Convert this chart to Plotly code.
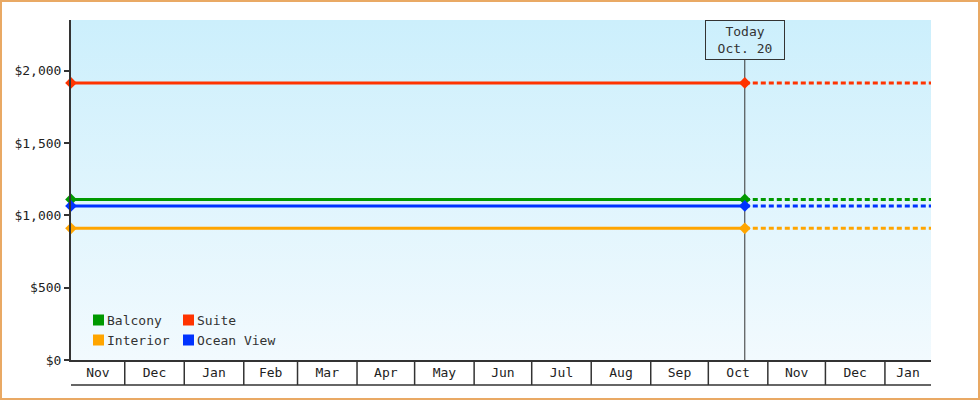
import base64
import pandas as pd
import plotly.graph_objects as go

# ---- data ----
range_start = "2022-11-03"
today = "2023-10-20"
range_end = "2024-01-25"
dates_past = [range_start, today]
dates_future = [today, range_end]

series_names = ["Balcony", "Suite", "Interior", "Ocean View"]
series_colors = ["#009900", "#FF3300", "#FFA500", "#0033FF"]
balcony = [1110, 1110]
suite = [1915, 1915]
interior = [910, 910]
ocean_view = [1065, 1065]
series_values = [balcony, suite, interior, ocean_view]

month_labels = ["Nov", "Dec", "Jan", "Feb", "Mar", "Apr", "May", "Jun",
                "Jul", "Aug", "Sep", "Oct", "Nov", "Dec", "Jan"]
month_starts = ["2022-11-01", "2022-12-01", "2023-01-01", "2023-02-01", "2023-03-01",
                "2023-04-01", "2023-05-01", "2023-06-01", "2023-07-01", "2023-08-01",
                "2023-09-01", "2023-10-01", "2023-11-01", "2023-12-01", "2024-01-01"]

y_ticks = [0, 500, 1000, 1500, 2000]
y_tick_labels = ["$0", "$500", "$1,000", "$1,500", "$2,000"]
y_max = 2350

# ---- layout geometry ----
W, H = 980, 400
ML, MR, MT, MB = 71, 49, 20, 40
PW, PH = W - ML - MR, H - MT - MB
FONT = "DejaVu Sans Mono"
INK = "#333333"

rs, re_ = pd.Timestamp(range_start), pd.Timestamp(range_end)
ms = [pd.Timestamp(m) for m in month_starts]
bounds = ms[1:] + [re_]
mids = []
for a, b in zip(ms, bounds):
    a2, b2 = max(a, rs), min(b, re_)
    mids.append(a2 + (b2 - a2) / 2)

fig = go.Figure()

for name, color, vals in zip(series_names, series_colors, series_values):
    fig.add_trace(go.Scatter(
        x=dates_future, y=vals, mode="lines",
        line=dict(color=color, width=3, dash="5px,3px"),
        showlegend=False, hoverinfo="skip", cliponaxis=False))
for name, color, vals in zip(series_names, series_colors, series_values):
    fig.add_trace(go.Scatter(
        x=dates_past, y=vals, mode="lines+markers", name=name,
        line=dict(color=color, width=3),
        marker=dict(symbol="diamond", size=9, color=color),
        showlegend=False, cliponaxis=False))

shapes = []
svg = ('<svg xmlns="http://www.w3.org/2000/svg" width="10" height="100" preserveAspectRatio="none">'
       '<defs><linearGradient id="g" x1="0" y1="0" x2="0" y2="1">'
       '<stop offset="0" stop-color="#CCEFFC"/><stop offset="1" stop-color="#F2FAFE"/>'
       '</linearGradient></defs><rect width="10" height="100" fill="url(#g)"/></svg>')
src = "data:image/svg+xml;base64," + base64.b64encode(svg.encode()).decode()
images = [dict(source=src, xref="paper", yref="paper", x=0, y=1, sizex=1, sizey=1,
               sizing="stretch", layer="below", xanchor="left", yanchor="top")]

# today line
shapes.append(dict(type="line", xref="x", yref="paper", x0=today, x1=today,
                   y0=0, y1=1 - 40 / PH, line=dict(color=INK, width=1), layer="below"))

# month box separators
box_h = 25 / PH
for m in ms[1:]:
    shapes.append(dict(type="line", xref="x", yref="paper", x0=m, x1=m,
                       y0=0, y1=-box_h, line=dict(color=INK, width=1.5)))
shapes.append(dict(type="line", xref="paper", yref="paper", x0=0, x1=1,
                   y0=-box_h, y1=-box_h, line=dict(color=INK, width=1.5)))

# outer border
shapes.append(dict(type="rect", xref="paper", yref="paper",
                   x0=(-ML + 1) / PW, x1=1 + (MR - 1) / PW,
                   y0=(-MB + 1) / PH, y1=1 + (MT - 1) / PH,
                   line=dict(color="#E9A964", width=2)))

annotations = [dict(text="Today<br>Oct. 20", x=today, xref="x", y=1, yref="paper",
                    yanchor="top", xanchor="center", showarrow=False,
                    width=78, height=38, borderwidth=1, bordercolor=INK, borderpad=0,
                    font=dict(family=FONT, size=13, color=INK))]

# custom legend (2 columns)
leg_pos = [(93, 320), (183, 320), (93, 340), (183, 340)]
for (px, py), name, color in zip(leg_pos, series_names, series_colors):
    x0 = (px - ML) / PW
    x1 = (px + 11 - ML) / PW
    yc = 1 - (py - MT) / PH
    shapes.append(dict(type="rect", xref="paper", yref="paper", x0=x0, x1=x1,
                       y0=yc - 5.5 / PH, y1=yc + 5.5 / PH,
                       fillcolor=color, line=dict(width=0)))
    annotations.append(dict(text=name, xref="paper", yref="paper",
                            x=(px + 12 - ML) / PW, y=yc, xanchor="left", yanchor="middle",
                            showarrow=False, font=dict(family=FONT, size=13, color=INK)))

fig.update_layout(
    width=W, height=H,
    margin=dict(l=ML, r=MR, t=MT, b=MB, pad=0),
    paper_bgcolor="white", plot_bgcolor="rgba(0,0,0,0)",
    font=dict(family=FONT, size=13, color=INK),
    shapes=shapes, annotations=annotations, images=images,
    showlegend=False,
    xaxis=dict(type="date", range=[range_start, range_end], showgrid=False,
               zeroline=False, showline=True, linecolor=INK, linewidth=1.5,
               tickvals=mids, ticktext=month_labels, ticks="",
               tickfont=dict(family=FONT, size=13, color="#222")),
    yaxis=dict(range=[0, y_max], tickvals=y_ticks, ticktext=y_tick_labels,
               showgrid=False, zeroline=False, showline=True, linecolor=INK,
               linewidth=2, ticks="outside", ticklen=5, tickwidth=2, tickcolor=INK,
               tickfont=dict(family=FONT, size=13, color="#222")),
)

fig.write_html("out.html", config={"displayModeBar": False},
               post_script="document.body.style.margin='0';document.body.style.padding='0';")
